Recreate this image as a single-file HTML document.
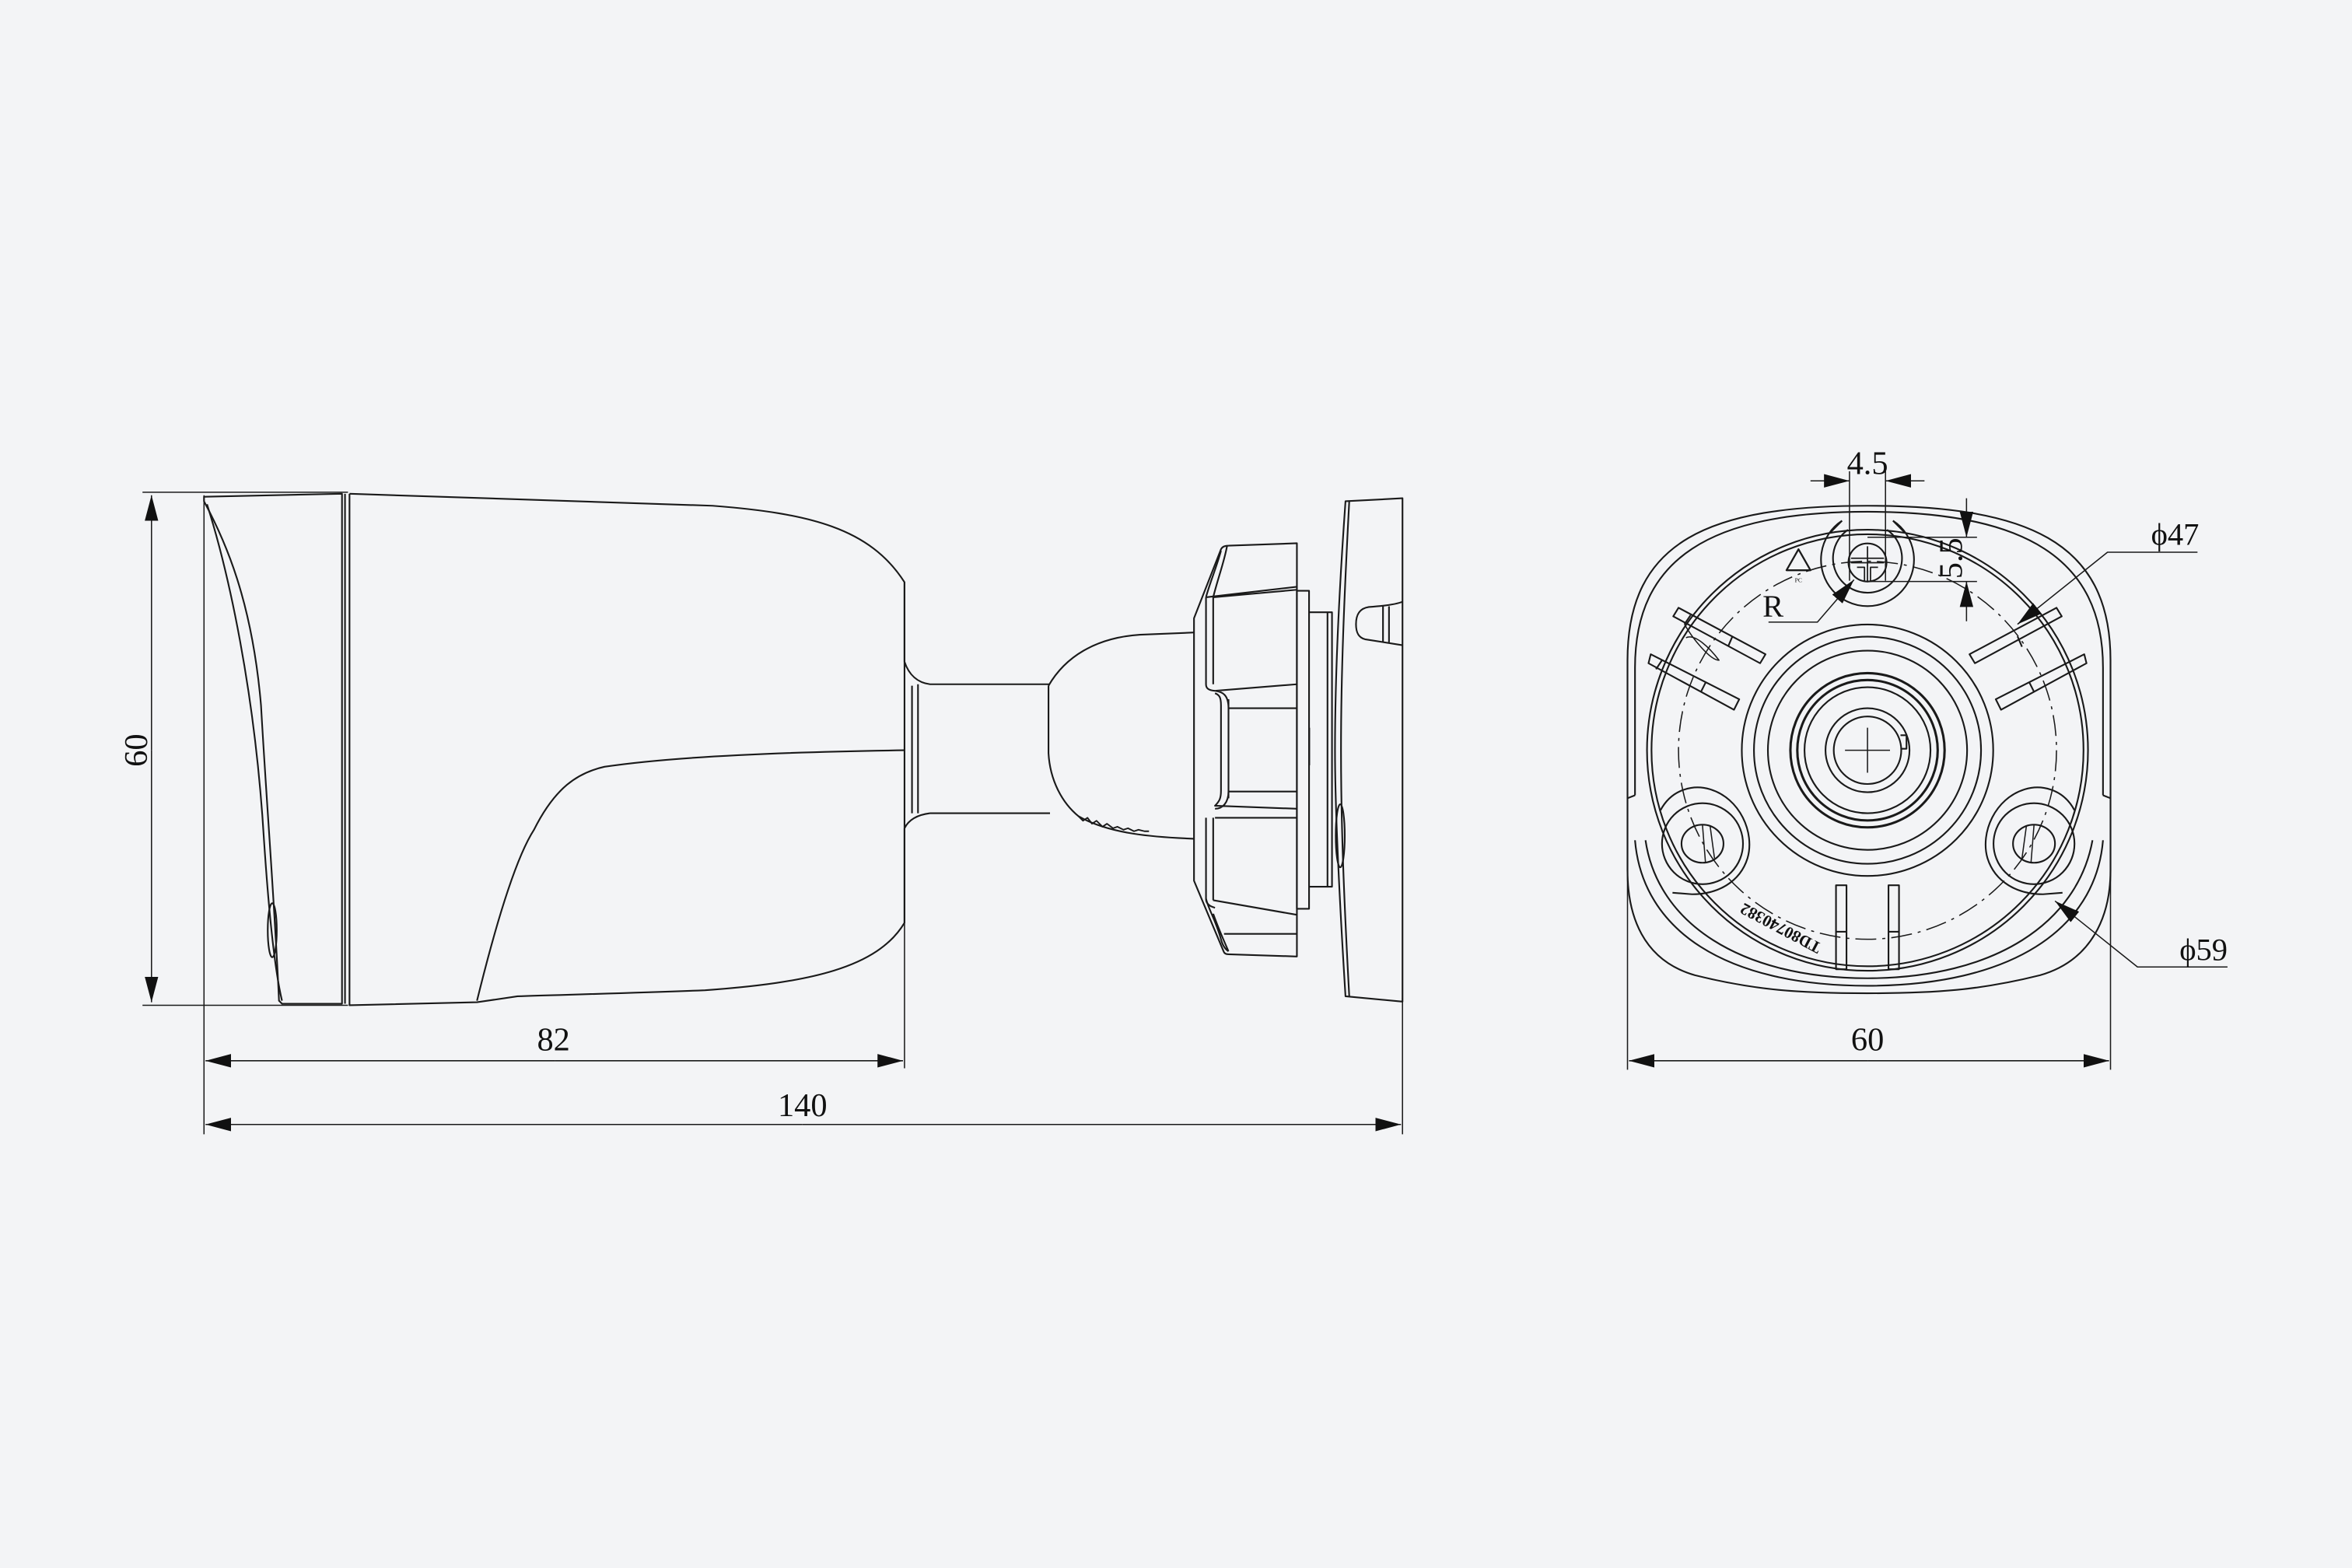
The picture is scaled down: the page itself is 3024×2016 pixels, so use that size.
<!DOCTYPE html>
<html><head><meta charset="utf-8"><style>
html,body{margin:0;padding:0;background:#f3f4f6;}
svg{display:block;}
text{font-family:"Liberation Serif",serif;fill:#111;}
</style></head><body>
<svg width="3024" height="2016" viewBox="0 0 1568 1045" xmlns="http://www.w3.org/2000/svg">
<rect width="1568" height="1045" fill="#f3f4f6"/>
<defs>
<marker id="a" viewBox="0 0 17 9" refX="17" refY="4.5" markerWidth="17" markerHeight="9" markerUnits="userSpaceOnUse" orient="auto"><path d="M0,0 L17,4.5 L0,9Z" fill="#111"/></marker>
</defs>
<g fill="none" stroke="#1a1a1a" stroke-width="1.1" stroke-linejoin="round">
<!-- LEFT VIEW -->
<line x1="95" y1="328" x2="232" y2="328" stroke-width="0.8"/>
<line x1="95" y1="670" x2="232" y2="670" stroke-width="0.8"/>
<line x1="101" y1="500" x2="101" y2="330" marker-end="url(#a)" stroke-width="0.8"/>
<line x1="101" y1="500" x2="101" y2="668" marker-end="url(#a)" stroke-width="0.8"/>
<line x1="136" y1="330" x2="136" y2="756" stroke-width="0.8"/>
<line x1="603" y1="610" x2="603" y2="712" stroke-width="0.8"/>
<line x1="935" y1="665" x2="935" y2="756" stroke-width="0.8"/>
<line x1="370" y1="707" x2="137" y2="707" marker-end="url(#a)" stroke-width="0.8"/>
<line x1="370" y1="707" x2="602" y2="707" marker-end="url(#a)" stroke-width="0.8"/>
<line x1="535" y1="749.5" x2="137" y2="749.5" marker-end="url(#a)" stroke-width="0.8"/>
<line x1="535" y1="749.5" x2="934" y2="749.5" marker-end="url(#a)" stroke-width="0.8"/>
<!-- front cap -->
<path d="M136,331 L228,329 L228,669 L188,669 L186,667 C183,600 178,540 174,470 C168,400 150,360 136,334Z"/>
<path d="M138,336 C152,380 170,460 176,560 C180,620 184,650 188,667"/>
<ellipse cx="181.5" cy="620" rx="3" ry="18"/>
<path d="M230,329 L230,669"/>
<!-- body -->
<path d="M233,329 L475,337 C540,342 580,352 603,388 L603,441 C606,450 612,455 620,456 L700,456"/>
<path d="M620,542 L700,542 M603,552 C606,546 612,543 620,542"/>
<path d="M603,552 L603,615 C585,645 540,655 470,660 C420,662 375,663 345,664 L318,668 L233,670 L233,329"/>
<path d="M318,667 C332,610 345,570 356,553 C370,525 385,515 403,511 C450,504 530,501 603,500"/>
<line x1="603" y1="388" x2="603" y2="615"/>
<path d="M608,457 L608,542 M612,456 L612,542"/>
<!-- ball -->
<path d="M699,457 C710,438 730,425 760,423 L796,421.5 M699,457 L699,502 C700,520 708,535 719,544 C740,556 770,558 796,559"/>
<path d="M719,544 l3,3 l3,-2 l3,4 l3,-2 l4,4 l3,-2 l4,3 l3,-1 l4,2 l3,-1 l4,2 l3,-1 l4,1 l3,0" stroke-width="1"/>
<!-- nut -->
<path d="M796,412 L814,366 C815,364 817,363.6 819,363.6 L864.6,362 L864.6,637.5 L819,636 C817,636 816,635 815.7,634 L796,587 Z"/>
<path d="M804,398 L804,456 C804,459 806,460 810,460.4 M804,545 L804,599 C804,602 806,604 810,605 M808.8,398 L808.8,456 M808.8,545 L808.8,600"/>
<path d="M804,398 L864.6,391 M808.8,398 L864.6,393 M818,364 C816,375 812,385 808.8,398 M814,367 C811,378 806,390 804,398"/>
<path d="M810,460.4 L864.6,456 M810,462 C813,463 814,465 814,470 L814,527 C814,532 813,534 810,537 L864.6,539 M819,466 L819,532 M819,472 L864.6,472 M819,527.5 L864.6,527.5 M810,460.4 C815,461 819,463 819,472 M810,539 C815,539 819,535 819,527.5 M810,545 L864.6,545"/>
<path d="M804,599 C806,607 810,612 814,626 C815,630 817,633 819,634 M808.8,600 L864.6,609.7 M808.8,609 C812,618 815,625 819,634 M816,622.4 L864.6,622.4"/>
<!-- block & stem -->
<rect x="864.6" y="393.7" width="8.1" height="212"/>
<path d="M872.7,408 L888,408 L888,591 L872.7,591 M885,408 L885,591"/>
<path d="M873,485 L873,510" stroke-width="0.8"/>
<!-- base plate -->
<path d="M897,334 L935,332 L935,667.6 L897,664 C893,600 890,540 890,500 C890,450 893,390 897,334Z"/>
<path d="M899.5,334 C896,400 894,450 894,500 C894,550 896,600 899.5,664"/>
<ellipse cx="893.5" cy="557" rx="3" ry="21"/>
<path d="M935,401 C930,403 920,404 912.5,404.5 C906,405.5 904,410 904,416 C904,422 906,425 910,426 L935,430 M926,404 L926,428 M922,404 L922,428"/>
<!-- RIGHT VIEW -->
<path d="M1085,580 L1085,440 C1085,360 1140,337 1245,337 C1350,337 1407,360 1407,440 L1407,580 C1407,610 1395,640 1360,650 C1320,660 1290,662 1245,662 C1200,662 1170,660 1130,650 C1095,640 1085,610 1085,580Z"/>
<path d="M1090,530 L1090,445 C1090,372 1140,341 1245,341 C1350,341 1402,372 1402,445 L1402,530"/>
<path d="M1085,532 L1090,530 M1407,532 L1402,530"/>
<path d="M1090,560 C1095,620 1150,657 1245,657 C1340,657 1397,620 1402,560"/>
<path d="M1097,560 C1105,615 1160,652 1245,652 C1330,652 1385,615 1395,560"/>
<circle cx="1245" cy="500" r="147"/>
<circle cx="1245" cy="500" r="144"/>
<circle cx="1245" cy="500" r="126" stroke-dasharray="14,4,2,4" stroke-width="0.8"/>
<circle cx="1245" cy="500" r="83.8"/>
<circle cx="1245" cy="500" r="75.7"/>
<circle cx="1245" cy="500" r="66.4"/>
<circle cx="1245" cy="500" r="51.4" stroke-width="1.6"/>
<circle cx="1245" cy="500" r="46.8" stroke-width="1.6"/>
<circle cx="1245" cy="500" r="42"/>
<circle cx="1245" cy="500" r="28"/>
<circle cx="1245" cy="500" r="22.5"/>
<path d="M1267,490 L1271,490 L1271,499 L1267,499"/>
<path d="M1230,500 L1260,500 M1245,485 L1245,515" stroke-width="0.8"/>
<path d="M1228,347 A31,31 0 1 0 1262,347"/>
<path d="M1232,353 A23,23 0 1 0 1258,353"/>
<circle cx="1245" cy="374.8" r="12.7"/>
<path d="M1234,372 L1256,372 M1234,375 L1256,375 M1238,378 L1243,378 L1243,387 M1252,378 L1247,378 L1247,387 M1245,364 L1245,388" stroke-width="0.9"/>
<path d="M1220,355 L1228,347 M1270,355 L1262,347"/>
<path d="M1199,366 L1191,380 L1207,380 Z" stroke-width="1.2"/>
<text x="1199" y="388" font-size="4" text-anchor="middle" stroke="none" font-family="Liberation Sans">PC</text>
<path d="M1119,405 L1177,436 L1173.4,442 L1115.5,410.7Z M1127,410 L1123,416 M1155,424 L1152,431"/>
<path d="M1100.5,436 L1159.5,466 L1156,473 L1099,442Z M1108,440 L1104,446 M1137,455 L1134,461"/>
<path d="M1123,416 C1128,425 1140,440 1146,440 C1140,432 1130,422 1124,425" stroke-width="0.8"/>
<path d="M1371,405 L1313,436 L1316.6,442 L1374.5,410.7Z M1345,424 L1348,431"/>
<path d="M1389.5,436 L1330.5,466 L1334,473 L1391,442Z M1353,455 L1356,461"/>
<rect x="1224" y="590" width="7" height="56"/>
<rect x="1259" y="590" width="7" height="56"/>
<path d="M1224,621 L1231,621 M1259,621 L1266,621"/>
<path d="M1107,540 C1115,525 1130,523 1140,526 C1160,532 1170,555 1165,572 C1160,588 1145,596 1128,596 L1115,595"/>
<circle cx="1135" cy="562.3" r="27"/>
<ellipse cx="1135" cy="562.3" rx="14" ry="12.7"/>
<path d="M1135,550 L1137,575 M1140,550 L1143,572" stroke-width="0.8"/>
<path d="M1383,540 C1375,525 1360,523 1350,526 C1330,532 1320,555 1325,572 C1330,588 1345,596 1362,596 L1375,595"/>
<circle cx="1356" cy="562.3" r="27"/>
<ellipse cx="1356" cy="562.3" rx="14" ry="12.7"/>
<path d="M1356,550 L1354,575 M1351,550 L1348,572" stroke-width="0.8"/>
<line x1="1085" y1="540" x2="1085" y2="713" stroke-width="0.8"/>
<line x1="1407" y1="540" x2="1407" y2="713" stroke-width="0.8"/>
<line x1="1245" y1="707" x2="1086" y2="707" marker-end="url(#a)" stroke-width="0.8"/>
<line x1="1245" y1="707" x2="1406" y2="707" marker-end="url(#a)" stroke-width="0.8"/>
<line x1="1233" y1="314" x2="1233" y2="387" stroke-width="0.8"/>
<line x1="1257" y1="314" x2="1257" y2="387" stroke-width="0.8"/>
<line x1="1207" y1="320.4" x2="1233" y2="320.4" marker-end="url(#a)" stroke-width="0.8"/>
<line x1="1283" y1="320.4" x2="1257" y2="320.4" marker-end="url(#a)" stroke-width="0.8"/>
<line x1="1245" y1="358" x2="1318" y2="358" stroke-width="0.8"/>
<line x1="1245" y1="387.5" x2="1318" y2="387.5" stroke-width="0.8"/>
<line x1="1311" y1="332" x2="1311" y2="358" marker-end="url(#a)" stroke-width="0.8"/>
<line x1="1311" y1="414" x2="1311" y2="387.5" marker-end="url(#a)" stroke-width="0.8"/>
<polyline points="1465,368 1405,368 1345,416" stroke-width="0.8" marker-end="url(#a)"/>
<polyline points="1485,644.5 1425,644.5 1370,600.5" stroke-width="0.8" marker-end="url(#a)"/>
<polyline points="1179,414.6 1211.6,414.6 1236,386.3" stroke-width="0.8" marker-end="url(#a)"/>
</g>
<g stroke="none">
<text x="90" y="500" font-size="22" text-anchor="middle" transform="rotate(-90 90 500) translate(0 8)">60</text>
<text x="369" y="700" font-size="22" text-anchor="middle">82</text>
<text x="535" y="744" font-size="22" text-anchor="middle">140</text>
<text x="1245" y="700" font-size="22" text-anchor="middle">60</text>
<text x="1245" y="316" font-size="22" text-anchor="middle">4.5</text>
<text x="1300" y="372" font-size="22" text-anchor="middle" transform="rotate(-90 1300 372) translate(0 8)">5.5</text>
<text x="1434" y="363" font-size="21">ϕ47</text>
<text x="1453" y="640" font-size="21">ϕ59</text>
<text x="1175" y="411" font-size="21">R</text>
<text x="1187" y="619" font-size="11" font-weight="bold" text-anchor="middle" font-family="Liberation Sans" transform="rotate(208 1187 619) translate(0 4)">TD80740382</text>
</g>
</svg>
</body></html>
